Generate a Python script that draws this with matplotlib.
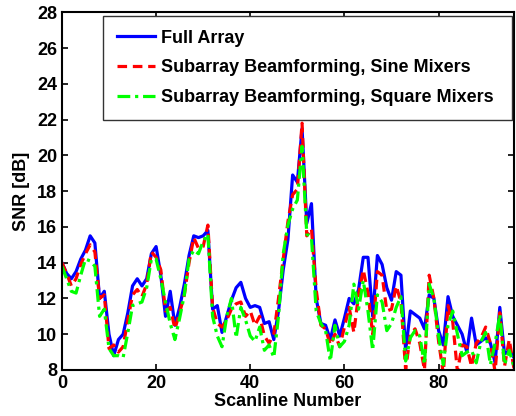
import matplotlib
matplotlib.use("Agg")
import matplotlib.pyplot as plt
import numpy as np

plt.rcParams['font.family'] = ['Liberation Sans', 'DejaVu Sans']
plt.rcParams['font.weight'] = 'bold'

scanline = list(range(0, 97))

full_array = [14.0, 13.4, 13.1, 13.5, 14.2, 14.7, 15.5, 15.1, 12.0, 12.4,
              10.0, 8.8, 9.7, 10.0, 11.2, 12.7, 13.1, 12.7, 13.1, 14.5,
              14.9, 13.3, 11.0, 12.4, 10.5, 11.5, 12.8, 14.4, 15.5, 15.4,
              15.5, 15.8, 11.4, 11.6, 10.1, 11.0, 11.9, 12.6, 12.9, 12.0,
              11.5, 11.6, 11.5, 10.6, 10.7, 9.7, 11.3, 13.6, 15.3, 18.9,
              18.5, 21.5, 16.2, 17.3, 12.0, 10.6, 10.5, 9.7, 10.8, 9.9,
              10.9, 12.0, 11.7, 12.5, 14.3, 14.3, 11.0, 14.4, 13.9, 12.6,
              11.9, 13.5, 13.3, 9.1, 11.3, 11.1, 10.9, 10.3, 12.2, 12.0,
              10.2, 9.4, 12.1, 11.0, 10.5, 10.0, 9.0, 10.9, 9.4, 9.6,
              9.8, 9.5, 8.4, 11.5, 8.9, 9.1, 8.7]

sine_mixers = [14.0, 13.4, 12.7, 13.1, 13.9, 14.5, 15.0, 14.6, 12.0, 12.2,
               9.2, 9.4, 9.0, 9.3, 10.8, 12.2, 12.5, 12.1, 12.8, 14.6,
               14.3, 13.6, 11.3, 11.5, 10.3, 11.2, 12.2, 14.0, 15.4, 14.8,
               14.9, 16.1, 11.5, 10.6, 10.4, 10.8, 11.4, 11.7, 11.8, 11.0,
               11.3, 10.5, 11.0, 9.9, 9.5, 10.0, 12.0, 14.2, 16.3, 17.8,
               18.1, 21.8, 15.5, 15.9, 12.5, 10.5, 10.3, 9.4, 10.0, 9.3,
               10.4, 11.5, 10.1, 12.2, 13.6, 12.3, 10.0, 13.5, 13.3, 11.3,
               11.4, 12.7, 11.8, 8.0, 10.0, 10.3, 9.5, 8.0, 13.3, 12.0,
               9.6, 7.8, 11.6, 10.7, 7.9, 9.4, 9.3, 8.2, 9.5, 9.8,
               10.4, 9.5, 7.9, 11.2, 8.2, 9.7, 8.1]

square_mixers = [13.8, 13.1, 12.4, 12.3, 13.3, 14.2, 14.1, 13.8, 11.0, 11.4,
                 9.2, 8.8, 8.8, 8.7, 10.1, 11.6, 11.7, 11.8, 12.6, 14.2,
                 14.2, 13.1, 11.8, 10.6, 9.7, 10.9, 12.2, 14.2, 14.7, 14.5,
                 15.2, 15.6, 11.0, 9.9, 9.3, 11.0, 12.0, 9.8, 11.5, 10.8,
                 9.9, 9.6, 10.4, 9.1, 9.4, 8.7, 11.0, 14.5, 16.1, 17.0,
                 17.5, 20.5, 15.6, 15.4, 11.3, 10.6, 10.2, 8.5, 10.5, 9.3,
                 9.6, 10.5, 12.8, 11.4, 13.0, 11.3, 9.1, 12.2, 11.8, 10.2,
                 10.6, 11.5, 12.1, 8.5, 9.8, 10.2, 9.9, 8.3, 12.8, 12.0,
                 9.9, 8.3, 10.5, 11.3, 10.0, 8.8, 9.0, 9.1, 8.4, 9.6,
                 10.1, 8.3, 9.5, 11.1, 8.3, 9.1, 8.2]

labels = ['Full Array', 'Subarray Beamforming, Sine Mixers',
          'Subarray Beamforming, Square Mixers']
x_ticks = [0, 20, 40, 60, 80]
y_ticks = [8, 10, 12, 14, 16, 18, 20, 22, 24, 26, 28]

fig = plt.figure(figsize=(5.16, 4.16), dpi=100)
ax = fig.add_axes([0.120, 0.1106, 0.876, 0.860])

ax.plot(scanline, full_array, color='#0000ff', linestyle='-', linewidth=2.3, label=labels[0])
ax.plot(scanline, sine_mixers, color='#ff0000', linestyle='--', linewidth=2.3,
        dashes=(3, 1.8), label=labels[1])
ax.plot(scanline, square_mixers, color='#00ff00', linestyle='-.', linewidth=2.3,
        dashes=(4, 1.5, 1, 1.5), label=labels[2])

ax.set_xlim(0, 96)
ax.set_ylim(8, 28)
ax.set_xticks(x_ticks)
ax.set_yticks(y_ticks)
ax.tick_params(direction='in', top=True, right=True, length=4, width=1.2,
               labelsize=13, pad=3.5)
for s in ax.spines.values():
    s.set_linewidth(1.5)

ax.set_xlabel('Scanline Number', fontsize=13, fontweight='bold', labelpad=0.5)
ax.set_ylabel('SNR [dB]', fontsize=13, fontweight='bold', labelpad=5)

leg = ax.legend(loc='upper left', bbox_to_anchor=(0.091, 0.726, 0.904, 0.263),
                mode='expand', fontsize=13,
                frameon=True, fancybox=False, edgecolor='#333333', framealpha=1,
                handlelength=2.1, handletextpad=0.35, borderpad=0.75, labelspacing=0.7,
                borderaxespad=0)
leg.get_frame().set_linewidth(1.0)

fig.savefig('out.png', dpi=100)
